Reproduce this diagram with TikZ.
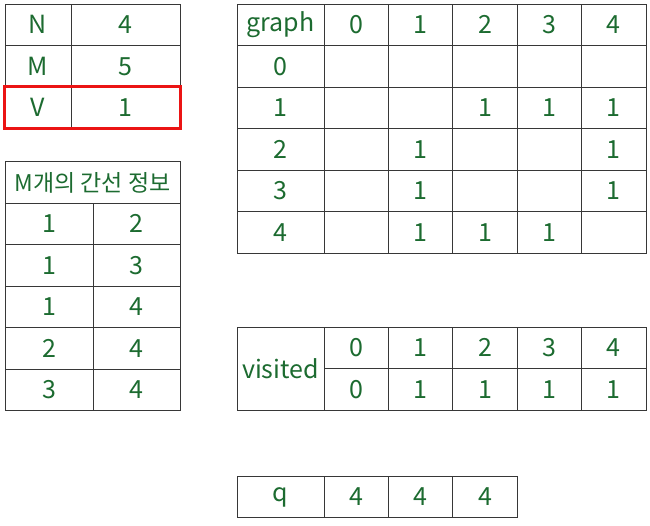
\documentclass[tikz,border=0pt]{standalone}
\usepackage{fontspec}
\setmainfont{Noto Sans CJK KR}
\definecolor{txtgreen}{RGB}{28,107,48}
\definecolor{gridgray}{RGB}{55,55,55}
\definecolor{markred}{RGB}{235,20,20}

\begin{document}
\begin{tikzpicture}[x=1pt, y=-1pt, cell/.style={draw=gridgray, line width=0.8pt, inner sep=0pt, minimum height=41.5pt, text=txtgreen, font=\fontsize{25}{25}\selectfont}, val/.style={inner sep=0pt, text=txtgreen, font=\fontsize{25}{25}\selectfont}, redbox/.style={draw=markred, line width=3pt}]
        \useasboundingbox (0,0) rectangle (650,525);

        % N, M, V
        \foreach \k/\a/\b in {0/N/4, 1/M/5, 2/V/1} {
            \node[cell, minimum width=66pt] (p-\k) at (38, 24.75+41.5*\k) {\a};
            \node[cell, minimum width=109pt] (v-\k) at (125.5, 24.75+41.5*\k) {\b};
        }
        \draw[redbox] (p-2.north west) rectangle (v-2.south east);

        % edges
        \node[cell, minimum width=175pt, font=\fontsize{23}{23}\selectfont] (e-title) at (92.5, 182.5) {M개의 간선 정보};
        \foreach \k/\a/\b in {0/1/2, 1/1/3, 2/1/4, 3/2/4, 4/3/4} {
            \node[cell, minimum width=88pt] (ea-\k) at (49, 223.75+41.5*\k) {\a};
            \node[cell, minimum width=87pt] (eb-\k) at (136.5, 223.75+41.5*\k) {\b};
        }

        % graph
        \node[cell, minimum width=87pt] (g-head) at (280.5, 24.75) {graph};
        \foreach \j in {0,...,4}
            \node[cell, minimum width=64.4pt] (gc-\j) at (356.2+64.4*\j, 24.75) {\j};
        \foreach \i in {0,...,4} {
            \node[cell, minimum width=87pt] (gr-\i) at (280.5, 66.25+41.5*\i) {\i};
            \foreach \j in {0,...,4}
                \node[cell, minimum width=64.4pt] (g-\i-\j) at (356.2+64.4*\j, 66.25+41.5*\i) {};
        }
        \foreach \i/\j in {1/2, 1/3, 1/4, 2/1, 2/4, 3/1, 3/4, 4/1, 4/2, 4/3}
            \node[val] (one-\i-\j) at (g-\i-\j) {1};

        % visited
        \node[cell, minimum width=87pt, minimum height=83pt] (vis) at (280.5, 368.5) {visited};
        \foreach \j/\v in {0/0, 1/1, 2/1, 3/1, 4/1} {
            \node[cell, minimum width=64.4pt] (vi-\j) at (356.2+64.4*\j, 347.75) {\j};
            \node[cell, minimum width=64.4pt] (vv-\j) at (356.2+64.4*\j, 389.25) {\v};
        }

        % q
        \node[cell, minimum width=87pt] (q) at (280.5, 497) {q};
        \foreach \j in {0,1,2}
            \node[cell, minimum width=64.4pt] (q-\j) at (356.2+64.4*\j, 497) {4};
    \end{tikzpicture}
\end{document}
